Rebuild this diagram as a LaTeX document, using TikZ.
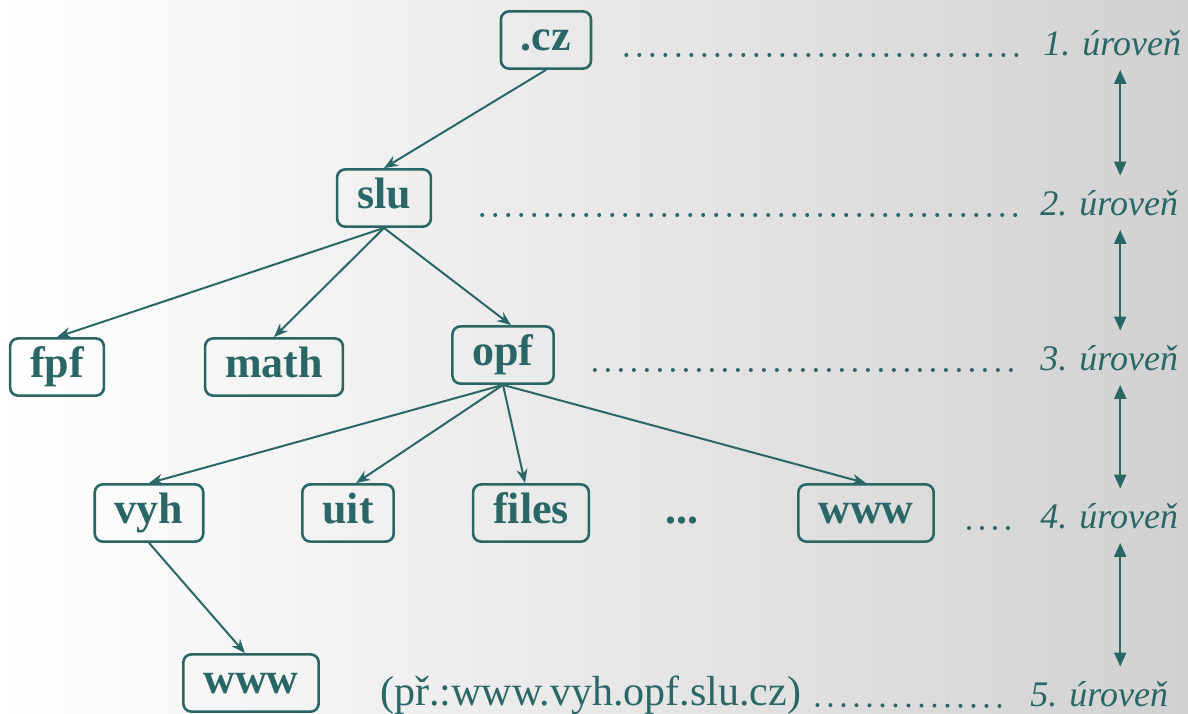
\documentclass[tikz,border=0pt]{standalone}
\usepackage{fontspec}
\setmainfont{Liberation Serif}
\usetikzlibrary{positioning,arrows.meta}
\definecolor{domteal}{RGB}{42,102,102}

\begin{document}
\begin{tikzpicture}[x=0.5pt,y=-0.5pt,
    dom/.style={draw=domteal,line width=1.3pt,rounded corners=4pt,text=domteal,
        font=\fontsize{22}{26}\selectfont\bfseries,inner xsep=10pt,inner ysep=4.3pt,
        text height=15pt,text depth=5pt},
    level/.style={text=domteal,font=\fontsize{18}{22}\selectfont\itshape,inner sep=0pt,anchor=base west},
    dots/.style={domteal,line width=2pt,line cap=round,dash pattern=on 0pt off 6.5pt},
    edge/.style={domteal,line width=1pt,-{Stealth[length=7pt,width=5.5pt]}},
    updown/.style={domteal,line width=1.1pt,{Triangle[length=7pt,width=6pt]}-{Triangle[length=7pt,width=6pt]},
        shorten >=7pt,shorten <=7pt}
]

% background
\useasboundingbox (0,0) rectangle (1188,713);
\fill[left color=white,right color=black!18] (0,0) rectangle (1188,713);

% nodes
\node[dom] (cz)    at (546,40)  {.cz};
\node[dom] (slu)   at (384,198) {slu};
\node[dom] (fpf)   at (57,367)  {fpf};
\node[dom] (math)  at (274,367) {math};
\node[dom] (opf)   at (503,355) {opf};
\node[dom] (vyh)   at (149,513) {vyh};
\node[dom] (uit)   at (348,513) {uit};
\node[dom] (files) at (531,513) {files};
\node[dom,draw=none] (more) at (682,513) {...};
\node[dom] (www)   at (866,513) {www};
\node[dom] (wwwv)  at (251,683) {www};

% example
\node[level,font=\fontsize{21}{25}\selectfont] (ex) at (380,705) {(př.:www.vyh.opf.slu.cz)};

% levels on the right
\node[level] (l1) at (1043,55)  {1. úroveň};
\node[level] (l2) at (1040,215) {2. úroveň};
\node[level] (l3) at (1040,370) {3. úroveň};
\node[level] (l4) at (1040,528) {4. úroveň};
\node[level] (l5) at (1030,706) {5. úroveň};

% tree
\draw[edge] (cz.south)  -- (slu.north);
\draw[edge] (slu.south) -- (fpf.north);
\draw[edge] (slu.south) -- (math.north);
\draw[edge] (slu.south) -- ([xshift=4pt]opf.north);
\draw[edge] (opf.south) -- (vyh.north);
\draw[edge] (opf.south) -- ([xshift=4pt]uit.north);
\draw[edge] (opf.south) -- ([xshift=-3pt]files.north);
\draw[edge] (opf.south) -- (www.north);
\draw[edge] (vyh.south) -- ([xshift=-3pt]wwwv.north);

% dotted guides
\draw[dots] ([xshift=17pt]cz.east |- l1.base)  -- ([xshift=-10pt]l1.base west);
\draw[dots] ([xshift=25pt]slu.east |- l2.base) -- ([xshift=-10pt]l2.base west);
\draw[dots] ([xshift=20pt]opf.east |- l3.base) -- ([xshift=-10pt]l3.base west);
\draw[dots] ([xshift=17pt]www.east |- l4.base) -- ([xshift=-10pt]l4.base west);
\draw[dots] ([xshift=8pt]ex.base east)         -- ([xshift=-14pt]l5.base west);

% arrows between levels
\draw[updown] ([xshift=4pt]l1.south) -- ([xshift=4pt]l1.south |- l2.north);
\draw[updown] ([xshift=4pt]l1.south |- l2.south) -- ([xshift=4pt]l1.south |- l3.north);
\draw[updown] ([xshift=4pt]l1.south |- l3.south) -- ([xshift=4pt]l1.south |- l4.north);
\draw[updown] ([xshift=4pt]l1.south |- l4.south) -- ([xshift=4pt]l1.south |- l5.north);

\end{tikzpicture}
\end{document}
